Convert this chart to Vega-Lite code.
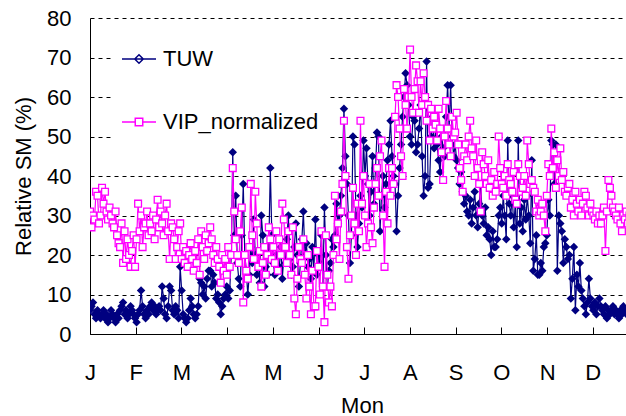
{
  "$schema": "https://vega.github.io/schema/vega-lite/v6.json",
  "width": 536,
  "height": 316,
  "autosize": {"type": "none"},
  "padding": {"left": 90, "top": 18, "right": 0, "bottom": 82},
  "config": {
    "font": "Liberation Sans",
    "view": {"stroke": null},
    "axis": {"labelColor": "black", "titleColor": "black", "domainColor": "black", "domainWidth": 1}
  },
  "data": {
    "values": [
      {"d":0,"TUW":6,"VIP_normalized":31},{"d":1,"TUW":7,"VIP_normalized":27},{"d":2,"TUW":8,"VIP_normalized":30},{"d":3,"TUW":5,"VIP_normalized":29},{"d":4,"TUW":4,"VIP_normalized":36},{"d":5,"TUW":6,"VIP_normalized":35},{"d":6,"TUW":5,"VIP_normalized":28},{"d":7,"TUW":4,"VIP_normalized":30},{"d":8,"TUW":5,"VIP_normalized":37},{"d":9,"TUW":6,"VIP_normalized":33},
      {"d":10,"TUW":4,"VIP_normalized":36},{"d":11,"TUW":5,"VIP_normalized":31},{"d":12,"TUW":3,"VIP_normalized":29},{"d":13,"TUW":4,"VIP_normalized":32},{"d":14,"TUW":6,"VIP_normalized":30},{"d":15,"TUW":5,"VIP_normalized":28},{"d":16,"TUW":4,"VIP_normalized":27},{"d":17,"TUW":3,"VIP_normalized":31},{"d":18,"TUW":5,"VIP_normalized":25},{"d":19,"TUW":4,"VIP_normalized":23},
      {"d":20,"TUW":6,"VIP_normalized":22},{"d":21,"TUW":7,"VIP_normalized":28},{"d":22,"TUW":8,"VIP_normalized":18},{"d":23,"TUW":5,"VIP_normalized":26},{"d":24,"TUW":6,"VIP_normalized":19},{"d":25,"TUW":4,"VIP_normalized":24},{"d":26,"TUW":5,"VIP_normalized":20},{"d":27,"TUW":7,"VIP_normalized":17},{"d":28,"TUW":6,"VIP_normalized":21},{"d":29,"TUW":5,"VIP_normalized":25},
      {"d":30,"TUW":4,"VIP_normalized":17},{"d":31,"TUW":3,"VIP_normalized":24},{"d":32,"TUW":5,"VIP_normalized":33},{"d":33,"TUW":6,"VIP_normalized":26},{"d":34,"TUW":11,"VIP_normalized":30},{"d":35,"TUW":7,"VIP_normalized":22},{"d":36,"TUW":5,"VIP_normalized":27},{"d":37,"TUW":4,"VIP_normalized":28},{"d":38,"TUW":6,"VIP_normalized":31},{"d":39,"TUW":5,"VIP_normalized":25},
      {"d":40,"TUW":7,"VIP_normalized":28},{"d":41,"TUW":8,"VIP_normalized":26},{"d":42,"TUW":6,"VIP_normalized":30},{"d":43,"TUW":7,"VIP_normalized":24},{"d":44,"TUW":5,"VIP_normalized":29},{"d":45,"TUW":6,"VIP_normalized":34},{"d":46,"TUW":7,"VIP_normalized":27},{"d":47,"TUW":6,"VIP_normalized":31},{"d":48,"TUW":12,"VIP_normalized":28},{"d":49,"TUW":9,"VIP_normalized":25},
      {"d":50,"TUW":5,"VIP_normalized":30},{"d":51,"TUW":4,"VIP_normalized":33},{"d":52,"TUW":7,"VIP_normalized":26},{"d":53,"TUW":12,"VIP_normalized":19},{"d":54,"TUW":11,"VIP_normalized":28},{"d":55,"TUW":6,"VIP_normalized":27},{"d":56,"TUW":5,"VIP_normalized":24},{"d":57,"TUW":7,"VIP_normalized":19},{"d":58,"TUW":6,"VIP_normalized":22},{"d":59,"TUW":4,"VIP_normalized":26},
      {"d":60,"TUW":17,"VIP_normalized":28},{"d":61,"TUW":11,"VIP_normalized":19},{"d":62,"TUW":5,"VIP_normalized":22},{"d":63,"TUW":4,"VIP_normalized":18},{"d":64,"TUW":3,"VIP_normalized":21},{"d":65,"TUW":4,"VIP_normalized":17},{"d":66,"TUW":6,"VIP_normalized":20},{"d":67,"TUW":9,"VIP_normalized":23},{"d":68,"TUW":7,"VIP_normalized":19},{"d":69,"TUW":5,"VIP_normalized":16},
      {"d":70,"TUW":4,"VIP_normalized":21},{"d":71,"TUW":5,"VIP_normalized":18},{"d":72,"TUW":7,"VIP_normalized":24},{"d":73,"TUW":14,"VIP_normalized":15},{"d":74,"TUW":13,"VIP_normalized":26},{"d":75,"TUW":10,"VIP_normalized":22},{"d":76,"TUW":12,"VIP_normalized":19},{"d":77,"TUW":9,"VIP_normalized":25},{"d":78,"TUW":14,"VIP_normalized":21},{"d":79,"TUW":16,"VIP_normalized":23},
      {"d":80,"TUW":16,"VIP_normalized":27},{"d":81,"TUW":12,"VIP_normalized":24},{"d":82,"TUW":15,"VIP_normalized":20},{"d":83,"TUW":13,"VIP_normalized":18},{"d":84,"TUW":9,"VIP_normalized":22},{"d":85,"TUW":10,"VIP_normalized":19},{"d":86,"TUW":8,"VIP_normalized":17},{"d":87,"TUW":5,"VIP_normalized":13},{"d":88,"TUW":7,"VIP_normalized":20},{"d":89,"TUW":9,"VIP_normalized":16},
      {"d":90,"TUW":10,"VIP_normalized":19},{"d":91,"TUW":12,"VIP_normalized":15},{"d":92,"TUW":9,"VIP_normalized":22},{"d":93,"TUW":11,"VIP_normalized":17},{"d":94,"TUW":20,"VIP_normalized":20},{"d":95,"TUW":46,"VIP_normalized":42},{"d":96,"TUW":25,"VIP_normalized":31},{"d":97,"TUW":35,"VIP_normalized":24},{"d":98,"TUW":18,"VIP_normalized":20},{"d":99,"TUW":14,"VIP_normalized":18},
      {"d":100,"TUW":12,"VIP_normalized":26},{"d":101,"TUW":25,"VIP_normalized":32},{"d":102,"TUW":38,"VIP_normalized":8},{"d":103,"TUW":20,"VIP_normalized":20},{"d":104,"TUW":16,"VIP_normalized":16},{"d":105,"TUW":10,"VIP_normalized":14},{"d":106,"TUW":15,"VIP_normalized":22},{"d":107,"TUW":22,"VIP_normalized":38},{"d":108,"TUW":18,"VIP_normalized":25},{"d":109,"TUW":29,"VIP_normalized":19},
      {"d":110,"TUW":20,"VIP_normalized":36},{"d":111,"TUW":15,"VIP_normalized":28},{"d":112,"TUW":18,"VIP_normalized":17},{"d":113,"TUW":13,"VIP_normalized":21},{"d":114,"TUW":30,"VIP_normalized":12},{"d":115,"TUW":25,"VIP_normalized":18},{"d":116,"TUW":12,"VIP_normalized":22},{"d":117,"TUW":17,"VIP_normalized":15},{"d":118,"TUW":15,"VIP_normalized":20},{"d":119,"TUW":22,"VIP_normalized":27},
      {"d":120,"TUW":42,"VIP_normalized":24},{"d":121,"TUW":25,"VIP_normalized":19},{"d":122,"TUW":18,"VIP_normalized":22},{"d":123,"TUW":15,"VIP_normalized":18},{"d":124,"TUW":20,"VIP_normalized":26},{"d":125,"TUW":16,"VIP_normalized":16},{"d":126,"TUW":17,"VIP_normalized":24},{"d":127,"TUW":22,"VIP_normalized":20},{"d":128,"TUW":14,"VIP_normalized":33},{"d":129,"TUW":20,"VIP_normalized":29},
      {"d":130,"TUW":18,"VIP_normalized":22},{"d":131,"TUW":24,"VIP_normalized":18},{"d":132,"TUW":30,"VIP_normalized":26},{"d":133,"TUW":19,"VIP_normalized":20},{"d":134,"TUW":15,"VIP_normalized":15},{"d":135,"TUW":17,"VIP_normalized":27},{"d":136,"TUW":22,"VIP_normalized":9},{"d":137,"TUW":28,"VIP_normalized":5},{"d":138,"TUW":20,"VIP_normalized":14},{"d":139,"TUW":12,"VIP_normalized":22},
      {"d":140,"TUW":18,"VIP_normalized":19},{"d":141,"TUW":24,"VIP_normalized":18},{"d":142,"TUW":31,"VIP_normalized":24},{"d":143,"TUW":20,"VIP_normalized":15},{"d":144,"TUW":23,"VIP_normalized":9},{"d":145,"TUW":17,"VIP_normalized":20},{"d":146,"TUW":19,"VIP_normalized":12},{"d":147,"TUW":14,"VIP_normalized":5},{"d":148,"TUW":22,"VIP_normalized":16},{"d":149,"TUW":16,"VIP_normalized":7},
      {"d":150,"TUW":29,"VIP_normalized":7},{"d":151,"TUW":15,"VIP_normalized":21},{"d":152,"TUW":20,"VIP_normalized":17},{"d":153,"TUW":18,"VIP_normalized":10},{"d":154,"TUW":25,"VIP_normalized":26},{"d":155,"TUW":12,"VIP_normalized":12},{"d":156,"TUW":32,"VIP_normalized":3},{"d":157,"TUW":20,"VIP_normalized":25},{"d":158,"TUW":12,"VIP_normalized":15},{"d":159,"TUW":16,"VIP_normalized":8},
      {"d":160,"TUW":18,"VIP_normalized":12},{"d":161,"TUW":24,"VIP_normalized":7},{"d":162,"TUW":22,"VIP_normalized":20},{"d":163,"TUW":25,"VIP_normalized":35},{"d":164,"TUW":33,"VIP_normalized":24},{"d":165,"TUW":28,"VIP_normalized":28},{"d":166,"TUW":30,"VIP_normalized":19},{"d":167,"TUW":35,"VIP_normalized":31},{"d":168,"TUW":42,"VIP_normalized":38},{"d":169,"TUW":57,"VIP_normalized":54},
      {"d":170,"TUW":45,"VIP_normalized":40},{"d":171,"TUW":38,"VIP_normalized":22},{"d":172,"TUW":30,"VIP_normalized":14},{"d":173,"TUW":18,"VIP_normalized":25},{"d":174,"TUW":25,"VIP_normalized":30},{"d":175,"TUW":50,"VIP_normalized":37},{"d":176,"TUW":48,"VIP_normalized":28},{"d":177,"TUW":30,"VIP_normalized":20},{"d":178,"TUW":22,"VIP_normalized":33},{"d":179,"TUW":28,"VIP_normalized":26},
      {"d":180,"TUW":35,"VIP_normalized":54},{"d":181,"TUW":32,"VIP_normalized":33},{"d":182,"TUW":49,"VIP_normalized":40},{"d":183,"TUW":40,"VIP_normalized":30},{"d":184,"TUW":47,"VIP_normalized":22},{"d":185,"TUW":38,"VIP_normalized":28},{"d":186,"TUW":30,"VIP_normalized":38},{"d":187,"TUW":36,"VIP_normalized":27},{"d":188,"TUW":45,"VIP_normalized":23},{"d":189,"TUW":33,"VIP_normalized":32},
      {"d":190,"TUW":42,"VIP_normalized":38},{"d":191,"TUW":51,"VIP_normalized":42},{"d":192,"TUW":50,"VIP_normalized":35},{"d":193,"TUW":26,"VIP_normalized":45},{"d":194,"TUW":35,"VIP_normalized":49},{"d":195,"TUW":40,"VIP_normalized":30},{"d":196,"TUW":32,"VIP_normalized":17},{"d":197,"TUW":38,"VIP_normalized":36},{"d":198,"TUW":44,"VIP_normalized":28},{"d":199,"TUW":48,"VIP_normalized":42},
      {"d":200,"TUW":54,"VIP_normalized":35},{"d":201,"TUW":45,"VIP_normalized":42},{"d":202,"TUW":40,"VIP_normalized":38},{"d":203,"TUW":38,"VIP_normalized":55},{"d":204,"TUW":26,"VIP_normalized":63},{"d":205,"TUW":35,"VIP_normalized":60},{"d":206,"TUW":42,"VIP_normalized":52},{"d":207,"TUW":48,"VIP_normalized":45},{"d":208,"TUW":55,"VIP_normalized":40},{"d":209,"TUW":60,"VIP_normalized":62},
      {"d":210,"TUW":66,"VIP_normalized":58},{"d":211,"TUW":63,"VIP_normalized":52},{"d":212,"TUW":58,"VIP_normalized":60},{"d":213,"TUW":50,"VIP_normalized":72},{"d":214,"TUW":48,"VIP_normalized":60},{"d":215,"TUW":55,"VIP_normalized":56},{"d":216,"TUW":54,"VIP_normalized":62},{"d":217,"TUW":46,"VIP_normalized":68},{"d":218,"TUW":48,"VIP_normalized":64},{"d":219,"TUW":52,"VIP_normalized":56},
      {"d":220,"TUW":58,"VIP_normalized":64},{"d":221,"TUW":45,"VIP_normalized":58},{"d":222,"TUW":35,"VIP_normalized":66},{"d":223,"TUW":40,"VIP_normalized":60},{"d":224,"TUW":69,"VIP_normalized":54},{"d":225,"TUW":37,"VIP_normalized":58},{"d":226,"TUW":38,"VIP_normalized":49},{"d":227,"TUW":50,"VIP_normalized":57},{"d":228,"TUW":55,"VIP_normalized":52},{"d":229,"TUW":47,"VIP_normalized":55},
      {"d":230,"TUW":52,"VIP_normalized":53},{"d":231,"TUW":48,"VIP_normalized":49},{"d":232,"TUW":44,"VIP_normalized":57},{"d":233,"TUW":41,"VIP_normalized":52},{"d":234,"TUW":50,"VIP_normalized":46},{"d":235,"TUW":47,"VIP_normalized":39},{"d":236,"TUW":45,"VIP_normalized":50},{"d":237,"TUW":55,"VIP_normalized":59},{"d":238,"TUW":63,"VIP_normalized":52},{"d":239,"TUW":52,"VIP_normalized":48},
      {"d":240,"TUW":63,"VIP_normalized":45},{"d":241,"TUW":50,"VIP_normalized":55},{"d":242,"TUW":45,"VIP_normalized":50},{"d":243,"TUW":48,"VIP_normalized":51},{"d":244,"TUW":44,"VIP_normalized":56},{"d":245,"TUW":42,"VIP_normalized":48},{"d":246,"TUW":38,"VIP_normalized":42},{"d":247,"TUW":41,"VIP_normalized":39},{"d":248,"TUW":36,"VIP_normalized":36},{"d":249,"TUW":33,"VIP_normalized":45},
      {"d":250,"TUW":35,"VIP_normalized":48},{"d":251,"TUW":31,"VIP_normalized":44},{"d":252,"TUW":30,"VIP_normalized":50},{"d":253,"TUW":34,"VIP_normalized":54},{"d":254,"TUW":28,"VIP_normalized":47},{"d":255,"TUW":32,"VIP_normalized":45},{"d":256,"TUW":36,"VIP_normalized":40},{"d":257,"TUW":30,"VIP_normalized":49},{"d":258,"TUW":27,"VIP_normalized":42},{"d":259,"TUW":33,"VIP_normalized":38},
      {"d":260,"TUW":38,"VIP_normalized":31},{"d":261,"TUW":30,"VIP_normalized":46},{"d":262,"TUW":28,"VIP_normalized":43},{"d":263,"TUW":32,"VIP_normalized":40},{"d":264,"TUW":25,"VIP_normalized":38},{"d":265,"TUW":27,"VIP_normalized":44},{"d":266,"TUW":24,"VIP_normalized":37},{"d":267,"TUW":20,"VIP_normalized":39},{"d":268,"TUW":26,"VIP_normalized":35},{"d":269,"TUW":22,"VIP_normalized":41},
      {"d":270,"TUW":22,"VIP_normalized":36},{"d":271,"TUW":24,"VIP_normalized":38},{"d":272,"TUW":30,"VIP_normalized":50},{"d":273,"TUW":32,"VIP_normalized":42},{"d":274,"TUW":28,"VIP_normalized":38},{"d":275,"TUW":35,"VIP_normalized":37},{"d":276,"TUW":30,"VIP_normalized":40},{"d":277,"TUW":24,"VIP_normalized":35},{"d":278,"TUW":49,"VIP_normalized":43},{"d":279,"TUW":33,"VIP_normalized":39},
      {"d":280,"TUW":30,"VIP_normalized":38},{"d":281,"TUW":35,"VIP_normalized":36},{"d":282,"TUW":27,"VIP_normalized":41},{"d":283,"TUW":33,"VIP_normalized":34},{"d":284,"TUW":22,"VIP_normalized":33},{"d":285,"TUW":49,"VIP_normalized":43},{"d":286,"TUW":28,"VIP_normalized":40},{"d":287,"TUW":32,"VIP_normalized":36},{"d":288,"TUW":26,"VIP_normalized":37},{"d":289,"TUW":34,"VIP_normalized":40},
      {"d":290,"TUW":29,"VIP_normalized":35},{"d":291,"TUW":35,"VIP_normalized":49},{"d":292,"TUW":30,"VIP_normalized":43},{"d":293,"TUW":23,"VIP_normalized":38},{"d":294,"TUW":44,"VIP_normalized":39},{"d":295,"TUW":16,"VIP_normalized":37},{"d":296,"TUW":19,"VIP_normalized":36},{"d":297,"TUW":25,"VIP_normalized":31},{"d":298,"TUW":15,"VIP_normalized":34},{"d":299,"TUW":15,"VIP_normalized":30},
      {"d":300,"TUW":18,"VIP_normalized":31},{"d":301,"TUW":16,"VIP_normalized":33},{"d":302,"TUW":22,"VIP_normalized":30},{"d":303,"TUW":23,"VIP_normalized":26},{"d":304,"TUW":25,"VIP_normalized":35},{"d":305,"TUW":34,"VIP_normalized":43},{"d":306,"TUW":30,"VIP_normalized":40},{"d":307,"TUW":49,"VIP_normalized":52},{"d":308,"TUW":48,"VIP_normalized":42},{"d":309,"TUW":38,"VIP_normalized":46},
      {"d":310,"TUW":48,"VIP_normalized":37},{"d":311,"TUW":16,"VIP_normalized":44},{"d":312,"TUW":30,"VIP_normalized":40},{"d":313,"TUW":28,"VIP_normalized":47},{"d":314,"TUW":26,"VIP_normalized":39},{"d":315,"TUW":18,"VIP_normalized":41},{"d":316,"TUW":24,"VIP_normalized":36},{"d":317,"TUW":22,"VIP_normalized":35},{"d":318,"TUW":19,"VIP_normalized":37},{"d":319,"TUW":20,"VIP_normalized":38},
      {"d":320,"TUW":9,"VIP_normalized":32},{"d":321,"TUW":14,"VIP_normalized":34},{"d":322,"TUW":22,"VIP_normalized":30},{"d":323,"TUW":6,"VIP_normalized":36},{"d":324,"TUW":15,"VIP_normalized":33},{"d":325,"TUW":12,"VIP_normalized":31},{"d":326,"TUW":18,"VIP_normalized":34},{"d":327,"TUW":11,"VIP_normalized":30},{"d":328,"TUW":9,"VIP_normalized":33},{"d":329,"TUW":7,"VIP_normalized":36},
      {"d":330,"TUW":5,"VIP_normalized":35},{"d":331,"TUW":8,"VIP_normalized":32},{"d":332,"TUW":14,"VIP_normalized":30},{"d":333,"TUW":9,"VIP_normalized":33},{"d":334,"TUW":7,"VIP_normalized":31},{"d":335,"TUW":6,"VIP_normalized":30},{"d":336,"TUW":8,"VIP_normalized":29},{"d":337,"TUW":5,"VIP_normalized":31},{"d":338,"TUW":7,"VIP_normalized":28},{"d":339,"TUW":9,"VIP_normalized":30},
      {"d":340,"TUW":7,"VIP_normalized":28},{"d":341,"TUW":6,"VIP_normalized":30},{"d":342,"TUW":5,"VIP_normalized":32},{"d":343,"TUW":7,"VIP_normalized":21},{"d":344,"TUW":4,"VIP_normalized":31},{"d":345,"TUW":6,"VIP_normalized":39},{"d":346,"TUW":5,"VIP_normalized":37},{"d":347,"TUW":6,"VIP_normalized":35},{"d":348,"TUW":7,"VIP_normalized":32},{"d":349,"TUW":5,"VIP_normalized":31},
      {"d":350,"TUW":6,"VIP_normalized":30},{"d":351,"TUW":5,"VIP_normalized":29},{"d":352,"TUW":4,"VIP_normalized":32},{"d":353,"TUW":6,"VIP_normalized":28},{"d":354,"TUW":5,"VIP_normalized":26},{"d":355,"TUW":7,"VIP_normalized":30},{"d":356,"TUW":6,"VIP_normalized":29},{"d":357,"TUW":5,"VIP_normalized":31},{"d":358,"TUW":6,"VIP_normalized":28},{"d":359,"TUW":5,"VIP_normalized":30},
      {"d":360,"TUW":6,"VIP_normalized":29},{"d":361,"TUW":5,"VIP_normalized":31},{"d":362,"TUW":5,"VIP_normalized":30},{"d":363,"TUW":6,"VIP_normalized":28},{"d":364,"TUW":5,"VIP_normalized":30}
    ]
  },
  "transform": [{"fold": ["TUW", "VIP_normalized"], "as": ["series", "v"]}],
  "encoding": {
    "x": {
      "field": "d",
      "type": "quantitative",
      "scale": {"domain": [0, 356.7], "nice": false, "zero": false},
      "axis": {
        "values": [0, 30.42, 60.83, 91.25, 121.67, 152.08, 182.5, 212.92, 243.33, 273.75, 304.17, 334.58],
        "labelExpr": "['J','F','M','A','M','J','J','A','S','O','N','D'][round(datum.value / 30.4167)]",
        "grid": false,
        "tickSize": -7,
        "tickColor": "black",
        "labelFontSize": 22,
        "labelPadding": 52,
        "labelBaseline": "alphabetic",
        "labelFlush": false,
        "labelOverlap": false,
        "title": "Mon",
        "titleFontSize": 22,
        "titleFontWeight": "normal",
        "titleX": 272,
        "titleY": 78,
        "titleBaseline": "alphabetic"
      }
    },
    "y": {
      "field": "v",
      "type": "quantitative",
      "scale": {"domain": [0, 80], "nice": false},
      "axis": {
        "values": [0, 10, 20, 30, 40, 50, 60, 70, 80],
        "grid": true,
        "gridColor": "black",
        "gridDash": [4, 4],
        "gridWidth": 1,
        "ticks": false,
        "labelFontSize": 22,
        "labelPadding": 19,
        "title": "Relative SM (%)",
        "titleFontSize": 22,
        "titleFontWeight": "normal",
        "titleX": -55,
        "titleY": 158
      }
    }
  },
  "layer": [
    {
      "transform": [{"filter": "datum.series === 'TUW'"}],
      "mark": {"type": "line", "color": "#000080", "strokeWidth": 1.2, "clip": true}
    },
    {
      "transform": [{"filter": "datum.series === 'TUW'"}],
      "mark": {"type": "point", "shape": "diamond", "filled": true, "color": "#000080", "size": 72, "opacity": 1, "clip": true}
    },
    {
      "transform": [{"filter": "datum.series === 'VIP_normalized'"}],
      "mark": {"type": "line", "color": "#FF00FF", "strokeWidth": 1.2, "clip": true}
    },
    {
      "transform": [{"filter": "datum.series === 'VIP_normalized'"}],
      "mark": {"type": "point", "shape": "square", "filled": false, "fill": "white", "strokeWidth": 1.3, "size": 46, "opacity": 1, "clip": true},
      "encoding": {
        "color": {
          "field": "series",
          "type": "nominal",
          "scale": {"domain": ["TUW", "VIP_normalized"], "range": ["#000080", "#FF00FF"]},
          "legend": {
            "orient": "none",
            "legendX": 21,
            "legendY": 13,
            "title": null,
            "fillColor": "white",
            "padding": 10,
            "symbolSize": 1156,
            "symbolOpacity": 1,
            "symbolStrokeWidth": 1.5,
            "symbolType": {"expr": "datum.value === 'TUW' ? 'M-1,0H1M0,-0.25L0.25,0L0,0.25L-0.25,0Z' : 'M-1,0H-0.22M0.22,0H1M-0.22,-0.22H0.22V0.22H-0.22Z'"},
            "symbolFillColor": {"expr": "datum.value === 'TUW' ? '#000080' : '#ffffff'"},
            "labelFontSize": 22,
            "labelColor": "black",
            "labelOffset": 6,
            "rowPadding": 34
          }
        }
      }
    }
  ]
}
